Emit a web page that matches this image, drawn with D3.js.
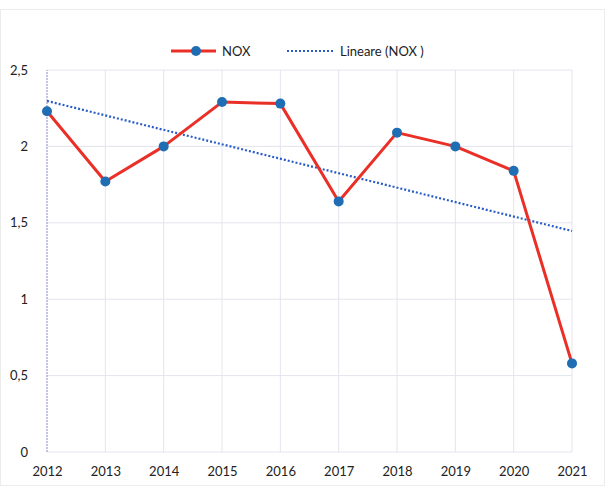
<!DOCTYPE html>
<html>
<head>
<meta charset="utf-8">
<script src="https://cdn.jsdelivr.net/npm/d3@7"></script>
<style>
  body { margin: 0; background: #fff; }
  svg text { font-family: Lato, "Open Sans", sans-serif; fill: #222; }
</style>
</head>
<body>
<div id="chart"></div>
<script>
const years = [2012, 2013, 2014, 2015, 2016, 2017, 2018, 2019, 2020, 2021];
const nox = [2.23, 1.77, 2.0, 2.29, 2.28, 1.64, 2.09, 2.0, 1.84, 0.58];
const yTicks = [0, 0.5, 1, 1.5, 2, 2.5];

const W = 608, H = 488;
const margin = { top: 70, right: 36, bottom: 36, left: 47 };

const svg = d3.select('#chart')
  .append('svg')
  .attr('width', W)
  .attr('height', H);

// faint outer frame
svg.append('rect')
  .attr('x', 0.5).attr('y', 9.5)
  .attr('width', W - 4).attr('height', H - 12)
  .attr('fill', 'none')
  .attr('stroke', '#ececec');

const x = d3.scaleLinear()
  .domain([years[0], years[years.length - 1]])
  .range([margin.left, W - margin.right]);

const y = d3.scaleLinear()
  .domain([0, 2.5])
  .range([H - margin.bottom, margin.top]);

const fmt = d => d3.format('.1~f')(d).replace('.', ',');

// gridlines
svg.append('g')
  .selectAll('line')
  .data(yTicks)
  .enter().append('line')
  .attr('x1', x.range()[0]).attr('x2', x.range()[1])
  .attr('y1', d => y(d)).attr('y2', d => y(d))
  .attr('stroke', '#e4e4ee').attr('stroke-width', 1);

svg.append('g')
  .selectAll('line')
  .data(years.slice(1))
  .enter().append('line')
  .attr('x1', d => x(d)).attr('x2', d => x(d))
  .attr('y1', y(0)).attr('y2', y(2.5))
  .attr('stroke', '#e4e4ee').attr('stroke-width', 1);

// y axis line (lavender dotted)
svg.append('line')
  .attr('x1', x(years[0])).attr('x2', x(years[0]))
  .attr('y1', y(0)).attr('y2', y(2.5))
  .attr('stroke', '#9c9cd6').attr('stroke-width', 1.2)
  .attr('stroke-dasharray', '2,1');

// axes
const yAxis = svg.append('g')
  .attr('transform', `translate(${margin.left - 16},0)`)
  .call(d3.axisLeft(y).tickValues(yTicks).tickFormat(fmt).tickSize(0));
yAxis.select('.domain').remove();
yAxis.selectAll('text').attr('font-size', 13).attr('dx', 0);

const xAxis = svg.append('g')
  .attr('transform', `translate(0,${y(0) + 12})`)
  .call(d3.axisBottom(x).tickValues(years).tickFormat(d3.format('d')).tickSize(0));
xAxis.select('.domain').remove();
xAxis.selectAll('text').attr('font-size', 13);

// linear trend (least squares)
const n = years.length;
const mx = d3.mean(years), my = d3.mean(nox);
const slope = d3.sum(years, (d, i) => (d - mx) * (nox[i] - my)) / d3.sum(years, d => (d - mx) ** 2);
const icpt = my - slope * mx;
const trend = [years[0], years[n - 1]].map(d => [d, icpt + slope * d]);

svg.append('path')
  .datum(trend)
  .attr('fill', 'none')
  .attr('stroke', '#2a5cc8')
  .attr('stroke-width', 2.2)
  .attr('stroke-dasharray', '2,2')
  .attr('d', d3.line().x(d => x(d[0])).y(d => y(d[1])));

// NOX line
const pts = years.map((d, i) => [d, nox[i]]);
svg.append('path')
  .datum(pts)
  .attr('fill', 'none')
  .attr('stroke', '#ea2f27')
  .attr('stroke-width', 3)
  .attr('stroke-linejoin', 'round')
  .attr('d', d3.line().x(d => x(d[0])).y(d => y(d[1])));

svg.append('g')
  .selectAll('circle')
  .data(pts)
  .enter().append('circle')
  .attr('cx', d => x(d[0]))
  .attr('cy', d => y(d[1]))
  .attr('r', 5)
  .attr('fill', '#1f6db3');

// legend
const lg = svg.append('g').attr('transform', 'translate(0,51)');
lg.append('line')
  .attr('x1', 171).attr('x2', 216).attr('y1', 0).attr('y2', 0)
  .attr('stroke', '#ea2f27').attr('stroke-width', 3);
lg.append('circle').attr('cx', 196).attr('cy', 0).attr('r', 5).attr('fill', '#1f6db3');
lg.append('text').attr('x', 222).attr('y', 4.5).attr('font-size', 13).text('NOX');
lg.append('line')
  .attr('x1', 287).attr('x2', 335).attr('y1', 0).attr('y2', 0)
  .attr('stroke', '#2a5cc8').attr('stroke-width', 2.2)
  .attr('stroke-dasharray', '2,2');
lg.append('text').attr('x', 340).attr('y', 4.5).attr('font-size', 13).text('Lineare (NOX )');
</script>
</body>
</html>
